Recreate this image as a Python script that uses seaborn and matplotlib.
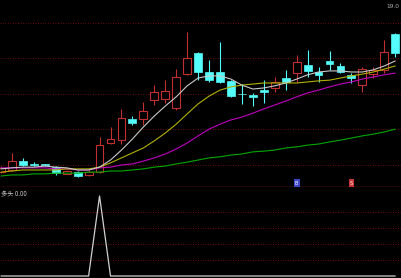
import numpy as np
import pandas as pd
import matplotlib
matplotlib.use("Agg")
import matplotlib.pyplot as plt
import seaborn as sns

# ---------------- data ----------------
opens  = [13.80, 13.86, 14.11, 14.04, 14.01, 13.94, 13.76, 13.80, 13.72, 13.80,
          14.62, 14.70, 15.30, 15.30, 15.83, 15.86, 15.61, 16.56, 17.15, 16.62,
          16.62, 16.37, 16.01, 15.97, 16.11, 16.17, 16.45, 16.59, 16.82, 16.62,
          16.93, 16.79, 16.54, 16.25, 16.56, 16.68, 17.69]
closes = [13.92, 14.11, 14.00, 14.01, 14.00, 13.77, 13.82, 13.69, 13.80, 14.56,
          14.73, 15.32, 15.18, 15.52, 16.06, 16.08, 16.48, 17.01, 16.62, 16.39,
          16.34, 15.94, 15.99, 15.92, 16.06, 16.34, 16.34, 16.90, 16.65, 16.54,
          16.85, 16.62, 16.45, 16.70, 16.68, 17.18, 17.15]
highs  = [13.97, 14.34, 14.20, 14.08, 14.03, 13.97, 13.86, 13.83, 13.86, 14.79,
          15.07, 15.58, 15.38, 15.77, 16.25, 16.39, 16.70, 17.75, 17.18, 16.96,
          17.46, 16.39, 16.28, 16.03, 16.39, 16.48, 16.68, 17.10, 17.24, 16.76,
          17.21, 16.87, 16.59, 16.76, 16.76, 17.52, 17.72]
lows   = [13.77, 13.83, 13.97, 13.97, 13.97, 13.72, 13.75, 13.66, 13.69, 13.77,
          14.59, 14.59, 15.13, 15.13, 15.69, 15.75, 15.55, 16.54, 16.39, 16.34,
          16.31, 15.92, 15.72, 15.66, 15.75, 16.06, 16.11, 16.34, 16.48, 16.34,
          16.68, 16.59, 16.31, 16.06, 16.45, 16.59, 17.04]

ma_white  = [13.89, 13.92, 13.94, 13.94, 13.97, 13.94, 13.92, 13.86, 13.86, 13.94,
             14.14, 14.42, 14.73, 15.07, 15.38, 15.66, 15.92, 16.23, 16.45, 16.51,
             16.51, 16.42, 16.25, 16.14, 16.17, 16.23, 16.31, 16.42, 16.54, 16.62,
             16.65, 16.65, 16.62, 16.62, 16.68, 16.79, 16.93]
ma_yellow = [13.80, 13.83, 13.86, 13.86, 13.86, 13.86, 13.89, 13.89, 13.89, 13.94,
             14.06, 14.20, 14.34, 14.48, 14.68, 14.90, 15.15, 15.44, 15.72, 15.94,
             16.11, 16.20, 16.25, 16.28, 16.31, 16.31, 16.31, 16.31, 16.34, 16.37,
             16.39, 16.45, 16.51, 16.56, 16.62, 16.70, 16.79]
ma_magenta = [13.92, 13.92, 13.92, 13.92, 13.92, 13.89, 13.89, 13.86, 13.86, 13.92,
              13.94, 14.00, 14.03, 14.11, 14.20, 14.31, 14.45, 14.62, 14.82, 15.01,
              15.15, 15.27, 15.35, 15.46, 15.58, 15.69, 15.80, 15.92, 16.03, 16.11,
              16.20, 16.28, 16.34, 16.42, 16.48, 16.54, 16.59]
ma_green  = [13.69, 13.72, 13.72, 13.75, 13.75, 13.77, 13.77, 13.77, 13.80, 13.80,
             13.83, 13.83, 13.86, 13.89, 13.94, 13.97, 14.03, 14.08, 14.14, 14.20,
             14.23, 14.28, 14.31, 14.37, 14.39, 14.42, 14.48, 14.51, 14.56, 14.59,
             14.65, 14.70, 14.76, 14.82, 14.87, 14.93, 15.01]

signal = [0, 0, 0, 0, 0, 0, 0, 0, 0, 1, 0, 0, 0, 0, 0, 0, 0, 0, 0, 0,
          0, 0, 0, 0, 0, 0, 0, 0, 0, 0, 0, 0, 0, 0, 0, 0, 0]

price_grid = [14, 15, 16, 17, 18]
signal_grid = [0.2, 0.4, 0.6, 0.8]
signal_label = "多头 0.00"
top_label = "19.0"
marks = [(27, "B", "#3c46c8"), (32, "S", "#c83232")]

# ---------------- style ----------------
sns.set_theme(style="dark")
plt.rcParams["font.family"] = ["DejaVu Sans", "Noto Sans CJK SC"]

RED = "#c03030"
CYAN = "#54fcfc"
BG = "black"

fig = plt.figure(figsize=(4.01, 2.78), dpi=100, facecolor=BG)
ax = fig.add_axes([0, 91 / 278, 1, 187 / 278])
ax2 = fig.add_axes([0, 0, 1, 91 / 278])
for a in (ax, ax2):
    a.set_facecolor(BG)
    a.set_xticks([])
    a.set_yticks([])
    for s in a.spines.values():
        s.set_visible(False)
    a.grid(False)

n = len(opens)
x = np.arange(n)
df = pd.DataFrame({"x": x, "open": opens, "close": closes, "high": highs, "low": lows,
                   "w": ma_white, "y": ma_yellow, "m": ma_magenta, "g": ma_green,
                   "sig": signal})

# grid lines
for g in price_grid:
    ax.axhline(g, color="#8a1010", lw=0.6, ls=(0, (1, 2)), zorder=0)
ax.axhline(13.39, color="#b01818", lw=1.0, zorder=0)
for g in signal_grid:
    ax2.axhline(g, color="#8a1010", lw=0.6, ls=(0, (1, 2)), zorder=0)

# candles
width = 0.72
for _, r in df.iterrows():
    is_up = r["close"] >= r["open"]
    col = RED if is_up else CYAN
    ax.vlines(r["x"], r["low"], r["high"], color=col, lw=0.8, zorder=2)
    lo = min(r["open"], r["close"])
    h = max(abs(r["close"] - r["open"]), 0.02)
    if is_up:
        ax.bar(r["x"], h, bottom=lo, width=width, facecolor=BG, edgecolor=col,
               linewidth=0.8, zorder=3)
    else:
        ax.bar(r["x"], h, bottom=lo, width=width, facecolor=col, edgecolor=col,
               linewidth=0.5, zorder=3)

# moving averages
sns.lineplot(data=df, x="x", y="g", ax=ax, color="#00a800", lw=0.8, zorder=4)
sns.lineplot(data=df, x="x", y="m", ax=ax, color="#c000c0", lw=0.8, zorder=4)
sns.lineplot(data=df, x="x", y="y", ax=ax, color="#b0b000", lw=0.8, zorder=4)
sns.lineplot(data=df, x="x", y="w", ax=ax, color="#c8c8c8", lw=0.8, zorder=4)

for xi, t, c in marks:
    ax.text(xi, 13.49, t, color="white", fontsize=3.5, ha="center", va="center",
            zorder=6, bbox=dict(boxstyle="square,pad=0.25", fc=c, ec="none"))

# signal panel
sns.lineplot(data=df, x="x", y="sig", ax=ax2, color="#d0d0d0", lw=0.9, zorder=4)

xl = (-1 / 10.95, 400 / 10.95)
ax.set_xlim(*xl)
ax2.set_xlim(*xl)
ax.set_ylim(13.38, 18.648)
ax2.set_ylim(-0.025, 1.1125)
for a in (ax, ax2):
    a.set_xlabel("")
    a.set_ylabel("")

fig.text(1 / 401, 1 - 194 / 278, signal_label, color="#c8c8c8", fontsize=4.5,
         ha="left", va="center", family=["Noto Sans CJK SC", "DejaVu Sans"])
fig.text(399 / 401, 1 - 6 / 278, top_label, color="#b0b0b0", fontsize=4.2,
         ha="right", va="center")

fig.savefig("out.png", dpi=100, facecolor=BG)
